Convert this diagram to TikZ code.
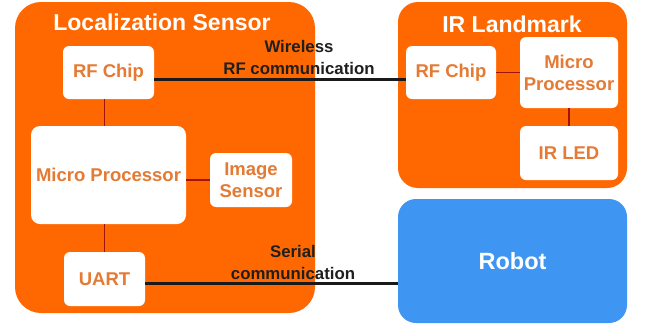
\documentclass[tikz,border=0pt]{standalone}
\usepackage{fontspec}
\setmainfont{Liberation Sans}
\begin{document}
\begin{tikzpicture}[x=1pt,y=-1pt,
  font=\bfseries,
  container/.style={fill=boxorange, draw=none, rounded corners=#1},
  unit/.style={fill=white, draw=none, rounded corners=6pt, text=labelorange,
               font=\fontsize{18.5}{22}\selectfont\bfseries, align=center, inner sep=0pt},
  heading/.style={text=white, font=\fontsize{23}{27}\selectfont\bfseries, inner sep=0pt},
  link/.style={draw=linkred, line width=1.5pt},
  bus/.style={draw=black!90, line width=3pt},
  buslabel/.style={text=black!88, font=\fontsize{16.8}{22}\selectfont\bfseries, align=center, inner sep=0pt}]
\definecolor{boxorange}{RGB}{255,104,0}
\definecolor{labelorange}{RGB}{228,122,52}
\definecolor{robotblue}{RGB}{62,150,242}
\definecolor{linkred}{RGB}{160,20,15}

\useasboundingbox[fill=white] (0,0) rectangle (646,325);

% Localization sensor
\node[container=26pt, minimum width=300pt, minimum height=311pt] (ls) at (165,157.5) {};
\node[heading] (lstitle) at (162,22) {Localization Sensor};
\node[unit, minimum width=91pt, minimum height=53pt] (rfl) at (108.5,72.5) {RF Chip};
\node[unit, rounded corners=9pt, minimum width=155pt, minimum height=98pt] (mpl) at (108.5,175) {Micro Processor};
\node[unit, minimum width=82pt, minimum height=54pt] (img) at (251,180) {Image\\Sensor};
\node[unit, minimum width=81pt, minimum height=54pt] (uart) at (104.5,279) {UART};

% IR landmark
\node[container=20pt, minimum width=229pt, minimum height=186pt] (ir) at (512.5,95) {};
\node[heading] (irtitle) at (512,24) {IR Landmark};
\node[unit, minimum width=90pt, minimum height=53pt] (rfr) at (451,72.5) {RF Chip};
\node[unit, minimum width=98pt, minimum height=71pt] (mpr) at (569,72.5) {Micro\\Processor};
\node[unit, minimum width=98pt, minimum height=54pt] (led) at (569,153) {IR LED};

% Robot
\node[fill=robotblue, rounded corners=18pt, minimum width=229pt, minimum height=124pt,
      text=white, font=\fontsize{23.5}{28}\selectfont\bfseries] (robot) at (512.5,261) {Robot};

% internal links
\draw[link] (rfl.south -| uart) -- (mpl.north -| uart);
\draw[link] (mpl.south -| uart) -- (uart.north);
\draw[link] (mpl.east |- img) -- (img.west);
\draw[link] (rfr.east) -- (mpr.west |- rfr);
\draw[link] (mpr.south) -- (led.north);

% external communication
\draw[bus] ([yshift=-6.5pt]rfl.east) -- ([yshift=-6.5pt]rfr.west);
\draw[bus] ([yshift=-4pt]uart.east) -- ([yshift=-4pt]uart.east -| robot.west);
\node[buslabel] (wl) at (299,57) {Wireless\\RF communication};
\node[buslabel] (sl) at (293,262) {Serial\\communication};
\end{tikzpicture}
\end{document}
